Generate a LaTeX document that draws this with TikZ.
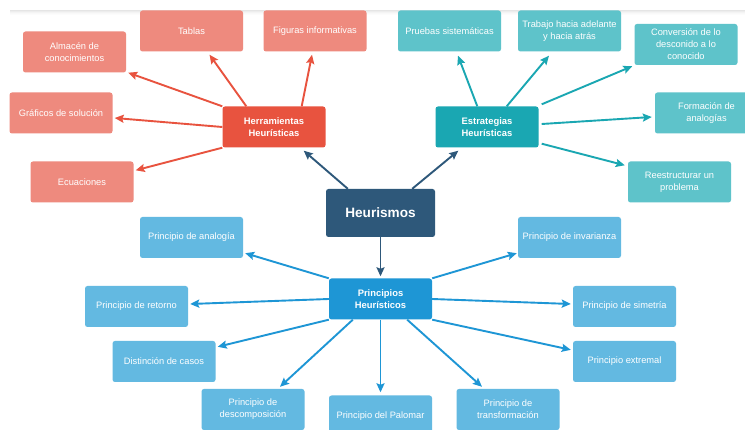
\documentclass[tikz,border=0pt]{standalone}
\usepackage{fontspec}
\setmainfont{Liberation Sans}
\usetikzlibrary{arrows.meta,calc}

\definecolor{toolMain}{RGB}{232,83,63}
\definecolor{toolLeaf}{RGB}{238,138,126}
\definecolor{stratMain}{RGB}{26,167,178}
\definecolor{stratLeaf}{RGB}{94,195,202}
\definecolor{rootBlue}{RGB}{46,88,122}
\definecolor{prinMain}{RGB}{30,150,213}
\definecolor{prinLeaf}{RGB}{99,185,225}

\tikzset{
  box/.style={rounded corners=2.5pt, text=white, align=center,
    minimum width=103pt, minimum height=41pt, inner sep=2pt,
    font=\fontsize{9.3}{12}\selectfont},
  hub/.style={box, font=\bfseries\fontsize{9.4}{12}\selectfont},
  toolleaf/.style={box, fill=toolLeaf},
  stratleaf/.style={box, fill=stratLeaf},
  prinleaf/.style={box, fill=prinLeaf},
  link/.style={line width=1.9pt,
    -{Stealth[length=9pt,width=8pt,inset=1.5pt]}},
  redlink/.style={link, draw=toolMain},
  teallink/.style={link, draw=stratMain},
  bluelink/.style={link, draw=prinMain},
  rootlink/.style={link, draw=rootBlue},
}

\begin{document}
\begin{tikzpicture}[x=1pt,y=-1pt]
\useasboundingbox (0,0) rectangle (745,430);
\fill[white] (0,0) rectangle (745,430);
% soft shadow under the header strip
\foreach \i/\o in {0/0.10,1/0.07,2/0.045,3/0.025,4/0.01}
  \fill[black,opacity=\o] (10,10+\i) rectangle (745,11+\i);

\begin{scope}
\clip (0,10) rectangle (745,430);

% centre
\node[box, fill=rootBlue, minimum width=109pt, minimum height=48pt,
      font=\bfseries\fontsize{13.6}{16}\selectfont] (heu) at (380.5,213) {Heurismos};

% hubs
\node[hub, fill=toolMain]  (hh) at (274,127)   {Herramientas\\Heurísticas};
\node[hub, fill=stratMain] (eh) at (487,127)   {Estrategias\\Heurísticas};
\node[hub, fill=prinMain]  (ph) at (380.5,299) {Principios\\Heurísticos};

% tools
\node[toolleaf] (alm) at (74.5,52)  {Almacén de\\conocimientos};
\node[toolleaf] (tab) at (191.5,31) {Tablas};
\node[toolleaf] (fig) at (315,31)   {Figuras informativas};
\node[toolleaf] (gra) at (61,113)   {Gráficos de solución};
\node[toolleaf] (ecu) at (82,182)   {Ecuaciones};

% strategies
\node[stratleaf] (pru) at (449.5,31)  {Pruebas sistemáticas};
\node[stratleaf] (tra) at (569.5,31)  {Trabajo hacia adelante\\y hacia atrás};
\node[stratleaf] (con) at (686,44.5)  {Conversión de lo\\desconido a lo\\conocido};
\node[stratleaf] (for) at (706.5,113) {Formación de\\analogías};
\node[stratleaf] (ree) at (679.5,182) {Reestructurar un\\problema};

% principles
\node[prinleaf] (ana) at (191.5,237.5) {Principio de analogía};
\node[prinleaf] (ret) at (136.5,306.5) {Principio de retorno};
\node[prinleaf] (dis) at (164,361.5)   {Distinción de casos};
\node[prinleaf] (des) at (253,409.5)   {Principio de\\descomposición};
\node[prinleaf] (pal) at (380.5,416)   {Principio del Palomar};
\node[prinleaf] (trf) at (508,409.5)   {Principio de\\transformación};
\node[prinleaf] (inv) at (569.5,237.5) {Principio de invarianza};
\node[prinleaf] (sim) at (624.5,306.5) {Principio de simetría};
\node[prinleaf] (ext) at (624.5,361.5) {Principio extremal};

% root links
\draw[rootlink] ($(heu.north west)+(22,0)$) -- ($(hh.south east)+(-22,3)$);
\draw[rootlink] ($(heu.north east)+(-23,0)$) -- ($(eh.south west)+(23,3)$);
\draw[rootlink] (heu.south) -- ($(ph.north)+(0,-2)$);

% tool links
\draw[redlink] (hh.north west) -- ($(alm.south east)+(2,0)$);
\draw[redlink] ($(hh.north west)+(24,0)$) -- ($(tab.south)+(18,3)$);
\draw[redlink] ($(hh.north east)+(-24,0)$) -- ($(fig.south)+(-3,3)$);
\draw[redlink] (hh.west) -- ($(gra.east)+(2,5)$);
\draw[redlink] (hh.south west) -- ($(ecu.north east)+(2,9)$);

% strategy links
\draw[teallink] ($(eh.north west)+(42,0)$) -- ($(pru.south)+(8.5,4)$);
\draw[teallink] ($(eh.north east)+(-32,0)$) -- ($(tra.south)+(-20.5,4)$);
\draw[teallink] ($(eh.north east)+(3,-2)$) -- ($(con.south west)+(-2,1)$);
\draw[teallink] ($(eh.east)+(3,-3)$) -- ($(for.west)+(-3,4)$);
\draw[teallink] ($(eh.south east)+(3,-4)$) -- ($(ree.north west)+(-3,4)$);

% principle links
\draw[bluelink] (ph.north west) -- ($(ana.south east)+(2,-5)$);
\draw[bluelink] (ph.west) -- ($(ret.east)+(2,-2.5)$);
\draw[bluelink] (ph.south west) -- ($(dis.north east)+(2,6)$);
\draw[bluelink] ($(ph.south west)+(24,0)$) -- ($(des.north)+(27,-2)$);
\draw[bluelink] (ph.south) -- ($(pal.north)+(0,-3)$);
\draw[bluelink] ($(ph.south east)+(-25,0)$) -- ($(trf.north)+(-26,-2)$);
\draw[bluelink] (ph.north east) -- ($(inv.south west)+(-1,-5)$);
\draw[bluelink] (ph.east) -- ($(sim.west)+(-2,-2.5)$);
\draw[bluelink] (ph.south east) -- ($(ext.north west)+(-2,9)$);
\end{scope}
\end{tikzpicture}
\end{document}
